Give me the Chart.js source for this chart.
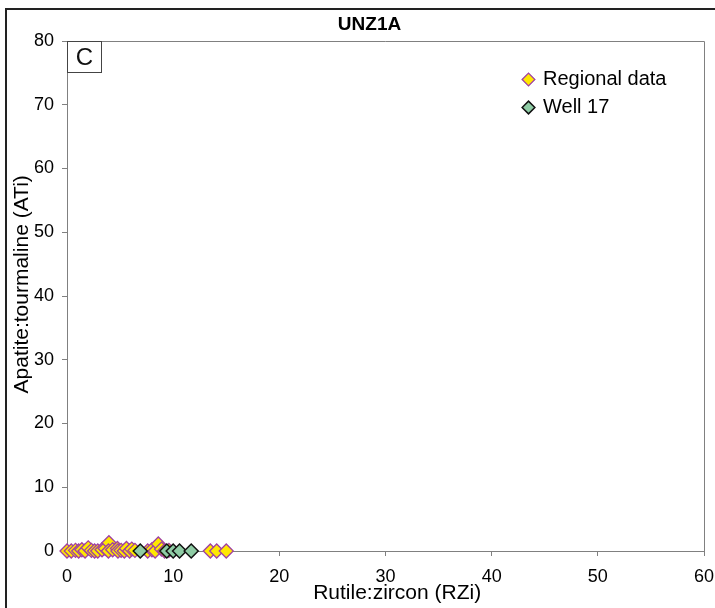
<!DOCTYPE html>
<html>
<head>
<meta charset="utf-8">
<script src="https://cdn.jsdelivr.net/npm/chart.js@4/dist/chart.umd.min.js"></script>
<style>
    html, body { margin: 0; padding: 0; background: #fff; }
    #wrap { width: 715px; height: 608px; position: relative; }
</style>
</head>
<body>
<div id="wrap"><canvas id="rzChart"></canvas></div>
<script>
// RZi / ATi values per sample
const regionalRZi = [0, 0.4, 0.8, 1.1, 1.4, 1.7, 2.0, 2.3, 2.6, 2.9, 3.3, 3.6, 3.95, 3.9, 4.3, 4.75, 4.8, 5.1, 5.4, 5.6, 5.9, 6.1, 6.4, 7.6, 8.0, 8.3, 8.6, 8.9, 9.2, 9.6, 13.5, 14.1, 15.0];
const regionalATi = [0, 0, 0.1, 0, 0.2, 0, 0.5, 0.1, 0, 0, 0.2, 0.4, 1.3, 0, 0.2, 0.4, 0, 0.1, 0, 0.4, 0, 0.3, 0.1, 0, 0.2, 0, 1.1, 0.3, 0, 0.1, 0, 0, 0];
const wellRZi = [6.9, 9.4, 10.0, 10.6, 11.7];
const wellATi = [0, 0, 0, 0, 0];

const xTicks = [0, 10, 20, 30, 40, 50, 60];
const yTicks = [0, 10, 20, 30, 40, 50, 60, 70, 80];

const toPoints = (xs, ys) => xs.map((x, i) => ({ x: x, y: ys[i] }));

const FONT = "'Liberation Sans', Arial, sans-serif";
const AXIS_GREY = '#808080';

// frame, plot box and the panel letter
const decorations = {
    id: 'decorations',
    beforeDraw(chart) {
        const ctx = chart.ctx;
        ctx.save();
        ctx.strokeStyle = '#222';
        ctx.lineWidth = 2;
        ctx.strokeRect(6, 9, 800, 800);
        ctx.restore();
    },
    afterDraw(chart) {
        const { ctx, chartArea: a } = chart;
        ctx.save();
        ctx.strokeStyle = AXIS_GREY;
        ctx.lineWidth = 1;
        ctx.beginPath();
        ctx.moveTo(a.left, a.top + 0.5);
        ctx.lineTo(a.right + 0.5, a.top + 0.5);
        ctx.lineTo(a.right + 0.5, a.bottom);
        ctx.stroke();
        // "C" label box
        ctx.strokeStyle = '#444';
        ctx.strokeRect(a.left + 0.5, a.top + 0.5, 34, 31);
        ctx.fillStyle = '#111';
        ctx.font = '24px ' + FONT;
        ctx.textAlign = 'center';
        ctx.textBaseline = 'middle';
        ctx.fillText('C', a.left + 17.5, a.top + 17);
        ctx.restore();
    },
    afterLayout(chart) {
        // legend sits inside the plot, upper right
        const lg = chart.legend;
        const w = lg.width;
        lg.left = 516;
        lg.right = lg.left + w;
        lg.top = 61.5;
        // title centred a bit to the right
        const t = chart.titleBlock;
        t.left += 6;
        t.right += 6;
    }
};

const config = {
    type: 'scatter',
    data: {
        datasets: [{
            label: 'Regional data',
            data: toPoints(regionalRZi, regionalATi),
            pointStyle: 'rectRot',
            pointRadius: 7,
            pointBorderWidth: 1.3,
            backgroundColor: '#FFE800',
            borderColor: '#A040A0',
            order: 1,
            clip: false
        }, {
            label: 'Well 17',
            data: toPoints(wellRZi, wellATi),
            pointStyle: 'rectRot',
            pointRadius: 7,
            pointBorderWidth: 1.5,
            backgroundColor: '#8FCCA5',
            borderColor: '#111',
            order: 0,
            clip: false
        }]
    },
    options: {
        responsive: true,
        maintainAspectRatio: false,
        animation: false,
        layout: { padding: { left: 12, right: 0, top: 0, bottom: 6 } },
        plugins: {
            tooltip: { enabled: false },
            title: {
                display: true,
                text: 'UNZ1A',
                color: '#000',
                font: { family: FONT, size: 19, weight: 'bold', lineHeight: 1 },
                padding: { top: 15.5, bottom: 6.5 }
            },
            legend: {
                position: 'chartArea',
                align: 'start',
                labels: {
                    usePointStyle: true,
                    boxWidth: 9,
                    boxHeight: 9,
                    padding: 8,
                    color: '#000',
                    font: { family: FONT, size: 20, lineHeight: 1 },
                    sort: (a, b) => a.datasetIndex - b.datasetIndex
                }
            }
        },
        scales: {
            x: {
                type: 'linear',
                min: 0,
                max: 60,
                afterBuildTicks: (s) => { s.ticks = xTicks.map(v => ({ value: v })); },
                afterFit: (s) => { s.height = 51; s.paddingLeft = 0; s.paddingRight = 11; },
                grid: { drawOnChartArea: false, tickLength: 5, color: AXIS_GREY },
                border: { color: AXIS_GREY },
                ticks: { color: '#000', padding: 12, maxRotation: 0, font: { family: FONT, size: 18, lineHeight: 1 } },
                title: {
                    display: true,
                    text: '    Rutile:zircon (RZi)',
                    color: '#000',
                    font: { family: FONT, size: 21, lineHeight: 0.85 },
                    padding: 0
                }
            },
            y: {
                type: 'linear',
                min: 0,
                max: 80,
                afterBuildTicks: (s) => { s.ticks = yTicks.map(v => ({ value: v })); },
                afterFit: (s) => { s.width = 55; },
                grid: { drawOnChartArea: false, tickLength: 5, color: AXIS_GREY },
                border: { color: AXIS_GREY },
                ticks: { color: '#000', padding: 8, font: { family: FONT, size: 18, lineHeight: 1 } },
                title: {
                    display: true,
                    text: '    Apatite:tourmaline (ATi)',
                    color: '#000',
                    font: { family: FONT, size: 21, lineHeight: 1 },
                    padding: { top: 0, bottom: 1 }
                }
            }
        }
    },
    plugins: [decorations]
};

const rzChart = new Chart(document.getElementById('rzChart'), config);
</script>
</body>
</html>
